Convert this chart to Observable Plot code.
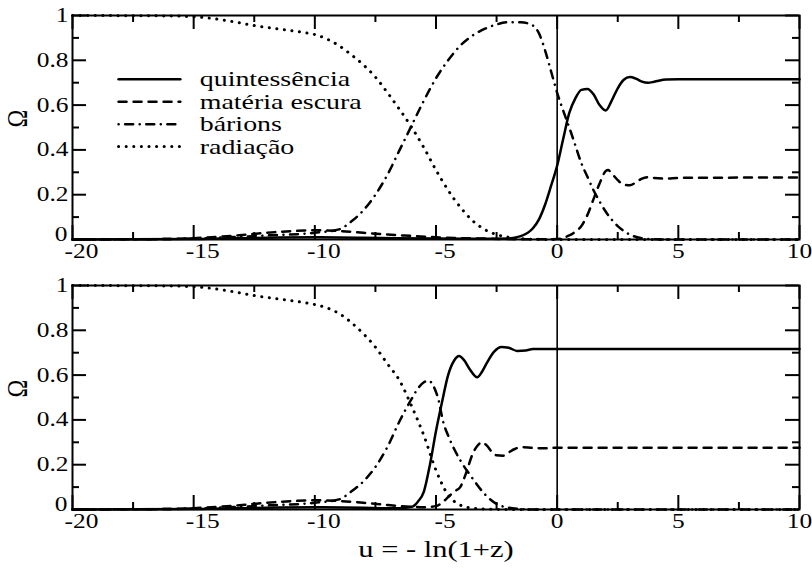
<!DOCTYPE html>
<html>
<head>
<meta charset="utf-8">
<script src="https://cdn.jsdelivr.net/npm/d3@7"></script>
<script src="https://cdn.jsdelivr.net/npm/@observablehq/plot@0.6"></script>
<style>
  body { margin: 0; background: #fff; }
  #chart { width: 812px; height: 568px; }
  #chart svg { display: block; }
</style>
</head>
<body>
<div id="chart"></div>
<script>
// Axis ticks and titles
const xTicks = [-20, -15, -10, -5, 0, 5, 10];
const xMinorTicks = [-17.5, -12.5, -7.5, -2.5, 2.5, 7.5];
const yTicks = [0, 0.2, 0.4, 0.6, 0.8, 1];
const yMinorTicks = [0.1, 0.3, 0.5, 0.7, 0.9];
const xTitle = "u = - ln(1+z)";
const yTitle = "Ω";
const seriesNames = ["quintessência", "matéria escura", "bárions", "radiação"];

// Upper panel: density parameters versus u
const topQuintessence = [[-20,0],[-15,0.002],[-12,0.008],[-10,0.01],[-8,0.008],[-5,0.004],[-3,0.003],[-2,0.005],[-1.5,0.015],[-1,0.05],[-0.75,0.09],[-0.5,0.155],[-0.25,0.24],[0,0.33],[0.25,0.45],[0.5,0.565],[0.75,0.63],[1,0.668],[1.25,0.672],[1.5,0.648],[1.75,0.6],[2,0.576],[2.25,0.62],[2.5,0.675],[2.75,0.713],[3,0.725],[3.25,0.718],[3.5,0.705],[3.75,0.7],[4,0.704],[4.5,0.714],[5,0.715],[10,0.715]];
const topDarkMatter = [[-20,0],[-16,0.002],[-15,0.006],[-14,0.012],[-13,0.02],[-12,0.03],[-11,0.037],[-10,0.041],[-9,0.038],[-8,0.03],[-7,0.022],[-6,0.016],[-5,0.01],[-4,0.006],[-3,0.004],[-2,0.002],[-1,0.001],[0,0.002],[0.25,0.008],[0.5,0.018],[0.75,0.035],[1,0.06],[1.25,0.11],[1.5,0.18],[1.75,0.25],[2,0.305],[2.1,0.31],[2.25,0.295],[2.5,0.265],[2.75,0.245],[3,0.242],[3.25,0.255],[3.5,0.272],[3.75,0.278],[4,0.275],[4.5,0.272],[5,0.275],[10,0.277]];
const topBaryons = [[-20,0],[-16,0.002],[-14,0.008],[-12,0.018],[-10,0.03],[-9,0.045],[-8.5,0.08],[-8,0.13],[-7.5,0.2],[-7,0.29],[-6.5,0.4],[-6,0.51],[-5.5,0.62],[-5,0.72],[-4.5,0.8],[-4,0.865],[-3.5,0.91],[-3,0.94],[-2.5,0.96],[-2,0.97],[-1.5,0.97],[-1,0.955],[-0.75,0.92],[-0.5,0.845],[-0.25,0.75],[0,0.655],[0.25,0.575],[0.5,0.5],[0.75,0.42],[1,0.34],[1.25,0.28],[1.5,0.22],[1.75,0.17],[2,0.125],[2.5,0.06],[3,0.022],[3.5,0.006],[4,0.001],[5,0],[10,0]];
const topRadiation = [[-20,1],[-16,0.998],[-14.5,0.99],[-13.5,0.975],[-12.5,0.955],[-11.5,0.94],[-10.5,0.925],[-10,0.915],[-9.5,0.895],[-9,0.865],[-8.5,0.825],[-8,0.78],[-7.5,0.725],[-7,0.655],[-6.5,0.58],[-6,0.5],[-5.5,0.41],[-5,0.31],[-4.5,0.22],[-4,0.145],[-3.5,0.085],[-3,0.045],[-2.5,0.022],[-2,0.01],[-1.5,0.004],[-1,0.001],[0,0],[10,0]];

// Lower panel: density parameters versus u
const bottomQuintessence = [[-20,0],[-15,0.002],[-12,0.008],[-10,0.01],[-8,0.008],[-7,0.006],[-6.5,0.006],[-6,0.012],[-5.75,0.035],[-5.5,0.08],[-5.25,0.2],[-5,0.35],[-4.75,0.48],[-4.5,0.6],[-4.25,0.665],[-4.05,0.685],[-3.85,0.668],[-3.6,0.625],[-3.3,0.59],[-3.1,0.615],[-2.9,0.655],[-2.6,0.705],[-2.3,0.726],[-2,0.722],[-1.65,0.708],[-1.3,0.71],[-1,0.716],[-0.5,0.717],[0,0.716],[10,0.716]];
const bottomDarkMatter = [[-20,0],[-16,0.002],[-15,0.006],[-14,0.012],[-13,0.02],[-12,0.03],[-11,0.037],[-10,0.041],[-9,0.038],[-8,0.03],[-7,0.02],[-6,0.012],[-5.5,0.01],[-5,0.015],[-4.75,0.03],[-4.5,0.055],[-4.25,0.08],[-4,0.1],[-3.75,0.165],[-3.5,0.245],[-3.25,0.29],[-3.1,0.3],[-2.9,0.285],[-2.7,0.258],[-2.5,0.242],[-2.25,0.24],[-2,0.255],[-1.75,0.27],[-1.5,0.278],[-1,0.275],[-0.5,0.273],[0,0.276],[10,0.276]];
const bottomBaryons = [[-20,0],[-16,0.002],[-14,0.008],[-12,0.018],[-10,0.03],[-9,0.045],[-8.5,0.08],[-8,0.125],[-7.5,0.19],[-7,0.28],[-6.5,0.395],[-6,0.495],[-5.75,0.54],[-5.5,0.568],[-5.3,0.575],[-5.1,0.55],[-4.9,0.49],[-4.7,0.39],[-4.5,0.33],[-4.25,0.27],[-4,0.22],[-3.5,0.14],[-3,0.07],[-2.5,0.025],[-2,0.008],[-1.5,0.002],[-1,0],[10,0]];
const bottomRadiation = [[-20,1],[-16,0.998],[-14.5,0.99],[-13.5,0.975],[-12.5,0.955],[-11.5,0.94],[-10.5,0.925],[-10,0.915],[-9.5,0.9],[-9,0.875],[-8.5,0.835],[-8,0.785],[-7.5,0.725],[-7,0.65],[-6.5,0.575],[-6,0.46],[-5.5,0.33],[-5,0.175],[-4.5,0.065],[-4,0.02],[-3.5,0.006],[-3,0.002],[-2,0],[10,0]];

// Line style of each component, in the order of seriesNames
const lineStyles = [
  {strokeWidth: 2.5},
  {strokeWidth: 2.5, strokeDasharray: "8,7", strokeLinecap: "round"},
  {strokeWidth: 2.5, strokeDasharray: "0.1,6.5,8,6.5", strokeLinecap: "round"},
  {strokeWidth: 3, strokeDasharray: "0.1,7.5", strokeLinecap: "round"}
];

const FONT = "'Liberation Serif', 'Times New Roman', serif";
const WIDTH = 812, M_LEFT = 72, M_RIGHT = 13, M_TOP = 15, INNER_H = 224;
const MAJOR = 14, MINOR = 7;
const TEXT_WIDEN = 1.27; // wide serif lettering

function frameTicks(innerW) {
  const marks = [];
  for (const [vals, len] of [[yTicks, MAJOR], [yMinorTicks, MINOR]]) {
    marks.push(Plot.tickY(vals, {y: d => d, insetRight: innerW - len, strokeWidth: 2}));
    marks.push(Plot.tickY(vals, {y: d => d, insetLeft: innerW - len, strokeWidth: 2}));
  }
  for (const [vals, len] of [[xTicks, MAJOR], [xMinorTicks, MINOR]]) {
    marks.push(Plot.tickX(vals, {x: d => d, insetTop: INNER_H - len, strokeWidth: 2}));
    marks.push(Plot.tickX(vals, {x: d => d, insetBottom: INNER_H - len, strokeWidth: 2}));
  }
  return marks;
}

function widenText(svg, k) {
  svg.querySelectorAll("text").forEach(t => {
    const tr = t.getAttribute("transform");
    if (tr && /^translate\([^)]*\)/.test(tr)) {
      t.setAttribute("transform", tr.replace(/^(translate\([^)]*\))/, `$1 scale(${k},1)`));
    }
  });
}

function panel(series, {height, withLegend, withTitle}) {
  const marginBottom = height - M_TOP - INNER_H;
  const innerW = WIDTH - M_LEFT - M_RIGHT;
  const marks = [];
  series.forEach((pts, i) => {
    marks.push(Plot.line(pts, {x: d => d[0], y: d => d[1], curve: "monotone-x", stroke: "#000", ...lineStyles[i]}));
  });
  marks.push(Plot.ruleX([0], {stroke: "#000", strokeWidth: 1.6}));
  marks.push(...frameTicks(innerW));
  marks.push(Plot.frame({stroke: "#000", strokeWidth: 2}));
  // negative labels sit a little to the right of their ticks
  const tickLabel = {tickSize: 0, tickPadding: 4, tickFormat: d => String(d), fontSize: 20, label: null};
  marks.push(Plot.axisX({...tickLabel, ticks: xTicks.filter(d => d < 0), dx: 9}));
  marks.push(Plot.axisX({...tickLabel, ticks: xTicks.filter(d => d >= 0)}));
  // the zero label at the corner is raised above the x labels
  marks.push(Plot.axisY({...tickLabel, ticks: yTicks.filter(d => d > 0)}));
  marks.push(Plot.axisY({...tickLabel, ticks: yTicks.filter(d => d === 0), tickPadding: 5, dy: -5}));
  marks.push(Plot.text([yTitle], {text: d => d, frameAnchor: "left", dx: -55, rotate: -90, fontSize: 24}));
  if (withTitle) {
    marks.push(Plot.text([xTitle], {text: d => d, frameAnchor: "bottom", dy: 47, fontSize: 24}));
  }
  if (withLegend) {
    const rows = seriesNames.map((name, i) => ({name, i, y: 0.715 - 0.1 * i}));
    rows.forEach(r => {
      marks.push(Plot.line([[-18.1, r.y], [-15.55, r.y]], {x: d => d[0], y: d => d[1], stroke: "#000", ...lineStyles[r.i]}));
    });
    marks.push(Plot.text(rows, {x: -14.75, y: d => d.y, text: d => d.name, textAnchor: "start", fontSize: 22}));
  }
  const svg = Plot.plot({
    width: WIDTH,
    height,
    marginLeft: M_LEFT,
    marginRight: M_RIGHT,
    marginTop: M_TOP,
    marginBottom,
    x: {domain: [-20, 10], label: null, axis: null},
    y: {domain: [0, 1], label: null, axis: null},
    style: {fontFamily: FONT, color: "#000", background: "transparent", overflow: "visible"},
    marks
  });
  widenText(svg, TEXT_WIDEN);
  return svg;
}

const chart = document.getElementById("chart");
chart.appendChild(panel([topQuintessence, topDarkMatter, topBaryons, topRadiation], {height: 270, withLegend: true}));
chart.appendChild(panel([bottomQuintessence, bottomDarkMatter, bottomBaryons, bottomRadiation], {height: 298, withTitle: true}));
</script>
</body>
</html>
